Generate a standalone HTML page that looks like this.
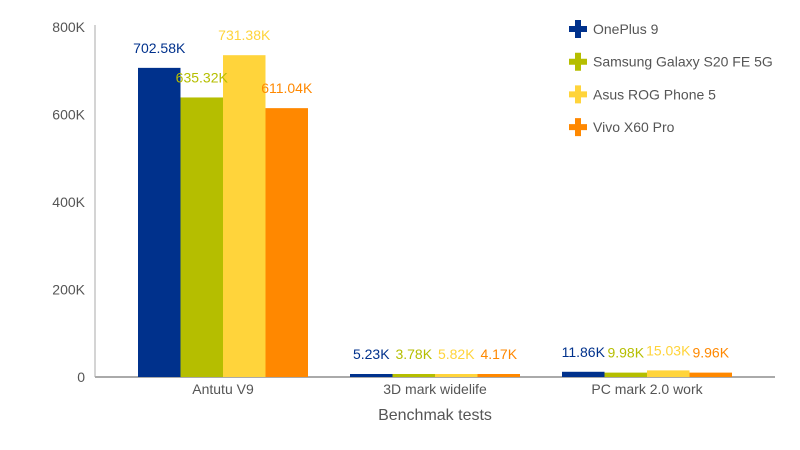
<!DOCTYPE html>
<html><head><meta charset="utf-8"><style>
body{margin:0;background:#fff;font-family:"Liberation Sans",sans-serif}
svg{display:block}
</style></head><body>
<svg id="chart" width="800" height="450" font-family="Liberation Sans, sans-serif">
<g id="grid"></g><g id="bars"></g><g id="labels"></g><g id="legend"></g>
</svg>
<script>
const categories=["Antutu V9","3D mark widelife","PC mark 2.0 work"];
const seriesNames=["OnePlus 9","Samsung Galaxy S20 FE 5G","Asus ROG Phone 5","Vivo X60 Pro"];
const oneplus=[702.58,5.23,11.86];
const samsung=[635.32,3.78,9.98];
const asus=[731.38,5.82,15.03];
const vivo=[611.04,4.17,9.96];
const valueLabels=[["702.58K","5.23K","11.86K"],["635.32K","3.78K","9.98K"],["731.38K","5.82K","15.03K"],["611.04K","4.17K","9.96K"]];
const ticks=[0,200,400,600,800];
const tickLabels=["0","200K","400K","600K","800K"];
const colors=["#00318c","#b5be00","#ffd43b","#ff8800"];
const series=[oneplus,samsung,asus,vivo];
const NS="http://www.w3.org/2000/svg";
const L=95,R=775,B=377,T=27,max=800;
const yt=v=>B-(v/max)*(B-T);
const y=v=>B-(v/max)*(B-25);
const gw=212, c0=223, bw=42.5;
const cx=ci=>c0+gw*ci;
const x=(ci,si)=>cx(ci)-2*bw+si*bw;
function mk(tag,attrs,parent,text){const e=document.createElementNS(NS,tag);for(const k in attrs)e.setAttribute(k,attrs[k]);if(text!==undefined)e.textContent=text;document.getElementById(parent).appendChild(e);return e;}
let e=mk("line",{x1:L,y1:T-2,x2:L,y2:B,stroke:"#aaa","stroke-width":1},"grid");


ticks.forEach((t,i)=>{
 const tl=mk("text",{x:85,y:yt(t)+5,"text-anchor":"end","font-size":14,fill:"#555"},"grid",tickLabels[i]);
 
 
});
categories.forEach((c,ci)=>{
 const cl=mk("text",{x:cx(ci),y:394,"text-anchor":"middle","font-size":14,fill:"#555"},"grid",c);
 
 
 series.forEach((s,si)=>{
  const top=Math.min(y(s[ci]),B-3);
  const r=mk("rect",{x:x(ci,si),y:top,width:bw,height:B-top,fill:colors[si]},"bars");
  
  
  const vl=mk("text",{x:x(ci,si)+bw/2,y:top-15,"text-anchor":"middle","font-size":14,fill:colors[si]},"labels",valueLabels[si][ci]);
  
  
 });
});
e=mk("line",{x1:L,y1:B,x2:R,y2:B,stroke:"#aaa","stroke-width":2},"grid");


e=mk("text",{x:435,y:420,"text-anchor":"middle","font-size":16,fill:"#555"},"grid","Benchmak tests");


seriesNames.forEach((n,i)=>{
 const cy=29+i*32.7,lx=578;
 const p=mk("path",{d:`M${lx-3} ${cy-9}h6v6h6v6h-6v6h-6v-6h-6v-6h6z`,fill:colors[i]},"legend");
 
 
 const t=mk("text",{x:593,y:cy+5,"font-size":14,fill:"#555"},"legend",n);
 
 
});
</script>
</body></html>
